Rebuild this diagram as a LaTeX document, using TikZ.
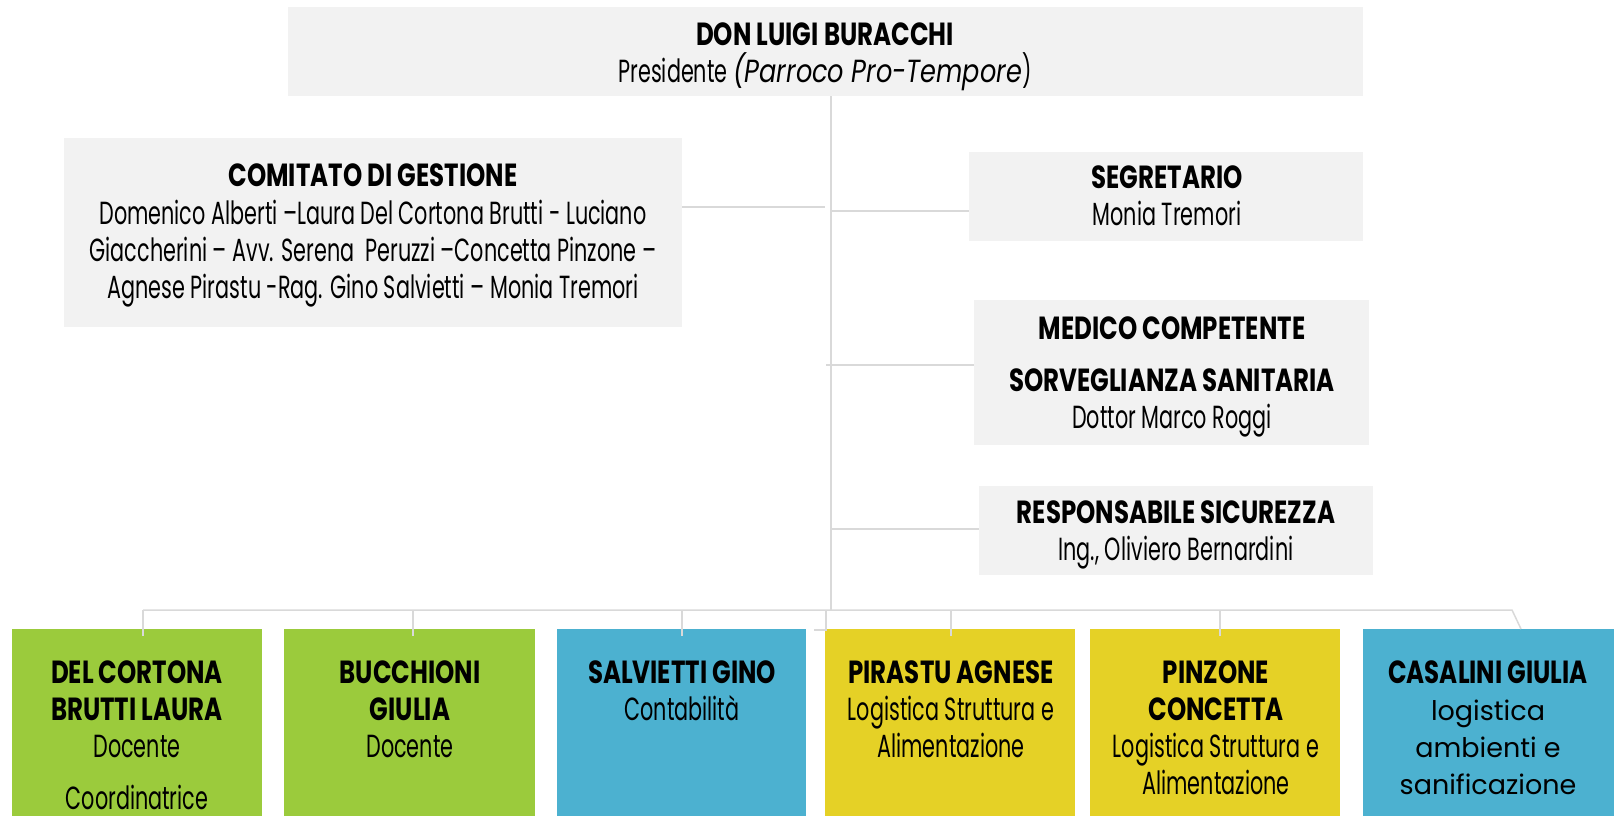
\documentclass[tikz,border=0pt]{standalone}
\usepackage{fontspec}
\setmainfont{Poppins}[UprightFeatures={FakeStretch=0.648}, ItalicFeatures={FakeStretch=0.80}, BoldFeatures={FakeStretch=0.765}]
\newfontfamily\widefont{Poppins}
\definecolor{boxgray}{HTML}{F2F2F2}
\definecolor{linegray}{HTML}{D9D9D9}
\definecolor{bgreen}{HTML}{9BCB3C}
\definecolor{bblue}{HTML}{4CB1D0}
\definecolor{byellow}{HTML}{E5D126}
\tikzset{
  gbox/.style={rectangle, fill=boxgray, draw=none, inner sep=0, outer sep=0},
  cbox/.style={rectangle, draw=none, inner sep=0, outer sep=0, minimum width=250, minimum height=191},
  conn/.style={draw=linegray, line width=1.5pt},
  txt/.style={anchor=base, inner sep=0, font=\fontsize{32}{34}\selectfont},
  ttl/.style={anchor=base, inner sep=0, font=\fontsize{32}{34}\selectfont\bfseries},
  wtxt/.style={anchor=base, inner sep=0, font=\widefont\fontsize{27}{30}\selectfont},
}
\begin{document}
\begin{tikzpicture}[x=1pt,y=-1pt]
\useasboundingbox (0,0) rectangle (1622,816);
% gray boxes
\node[gbox, minimum width=1075, minimum height=89] (top) at (825.5,51.5) {};
\node[gbox, minimum width=618, minimum height=189] (com) at (373,232.5) {};
\node[gbox, minimum width=394, minimum height=89] (seg) at (1166,196.5) {};
\node[gbox, minimum width=395, minimum height=145] (med) at (1171.5,372.5) {};
\node[gbox, minimum width=394, minimum height=89] (res) at (1176,530.5) {};
% coloured boxes
\node[cbox, fill=bgreen, minimum width=250] (b1) at (137,724.5) {};
\node[cbox, fill=bgreen, minimum width=251] (b2) at (409.5,724.5) {};
\node[cbox, fill=bblue, minimum width=249] (b3) at (681.5,724.5) {};
\node[cbox, fill=byellow, minimum width=250] (b4) at (950,724.5) {};
\node[cbox, fill=byellow, minimum width=250] (b5) at (1215,724.5) {};
\node[cbox, fill=bblue, minimum width=251] (b6) at (1488.5,724.5) {};
% connectors
\coordinate (busL) at (143,610);
\coordinate (busR) at (1512,610);
\coordinate (trunkEnd) at (831,610);
\draw[conn] (top.south -| trunkEnd) -- (trunkEnd);
\draw[conn] (com.east |- 0,207) -- (825,207);
\draw[conn] (831,211) -- (seg.west |- 0,211);
\draw[conn] (826,365) -- (med.west |- 0,365);
\draw[conn] (831,529) -- (res.west |- 0,529);
\draw[conn] (busL) -- (busR) -- (b6.north -| 1521,0);
\foreach \n/\x in {b1/143,b2/413,b3/682,b4/951,b5/1220}
  \draw[conn] (\x,610) -- (\n.north -| \x,0) -- ++(0,7);
\draw[conn] (826,610) -- (826,630) -- (814,630);
% texts
\begin{scope}[yshift=-1.5pt]
\node[ttl] (t1) at (825,44) {DON LUIGI BURACCHI};
\node[txt] (t2) at (825,81) {Presidente \textit{(Parroco Pro-Tempore})};
\node[ttl] (c1) at (373,185) {COMITATO DI GESTIONE};
\node[txt] (c2) at (373,223) {Domenico Alberti –Laura Del Cortona Brutti - Luciano};
\node[txt] (c3) at (373,260) {Giaccherini – Avv. Serena\ \ Peruzzi –Concetta Pinzone –};
\node[txt] (c4) at (373,297) {Agnese Pirastu -Rag. Gino Salvietti – Monia Tremori};
\node[ttl] (s1) at (1167,187) {SEGRETARIO};
\node[txt] (s2) at (1167,224) {Monia Tremori};
\node[ttl] (m1) at (1172,338) {MEDICO COMPETENTE};
\node[ttl] (m2) at (1172,390) {SORVEGLIANZA SANITARIA};
\node[txt] (m3) at (1172,427) {Dottor Marco Roggi};
\node[ttl] (r1) at (1176,522) {RESPONSABILE SICUREZZA};
\node[txt] (r2) at (1176,559) {Ing., Oliviero Bernardini};
% bottom texts
\node[ttl] (x1a) at (137,682) {DEL CORTONA};
\node[ttl] (x1b) at (137,719) {BRUTTI LAURA};
\node[txt] (x1c) at (137,756) {Docente};
\node[txt] (x1d) at (137,808) {Coordinatrice};
\node[ttl] (x2a) at (410,682) {BUCCHIONI};
\node[ttl] (x2b) at (410,719) {GIULIA};
\node[txt] (x2c) at (410,756) {Docente};
\node[ttl] (x3a) at (682,682) {SALVIETTI GINO};
\node[txt] (x3b) at (682,719) {Contabilità};
\node[ttl] (x4a) at (951,682) {PIRASTU AGNESE};
\node[txt] (x4b) at (951,719) {Logistica Struttura e};
\node[txt] (x4c) at (951,756) {Alimentazione};
\node[ttl] (x5a) at (1216,682) {PINZONE};
\node[ttl] (x5b) at (1216,719) {CONCETTA};
\node[txt] (x5c) at (1216,756) {Logistica Struttura e};
\node[txt] (x5d) at (1216,793) {Alimentazione};
\node[ttl] (x6a) at (1488,682) {CASALINI GIULIA};
\node[wtxt] (x6b) at (1488,719) {logistica};
\node[wtxt] (x6c) at (1488,756) {ambienti e};
\node[wtxt] (x6d) at (1488,793) {sanificazione};
\end{scope}
\end{tikzpicture}
\end{document}
